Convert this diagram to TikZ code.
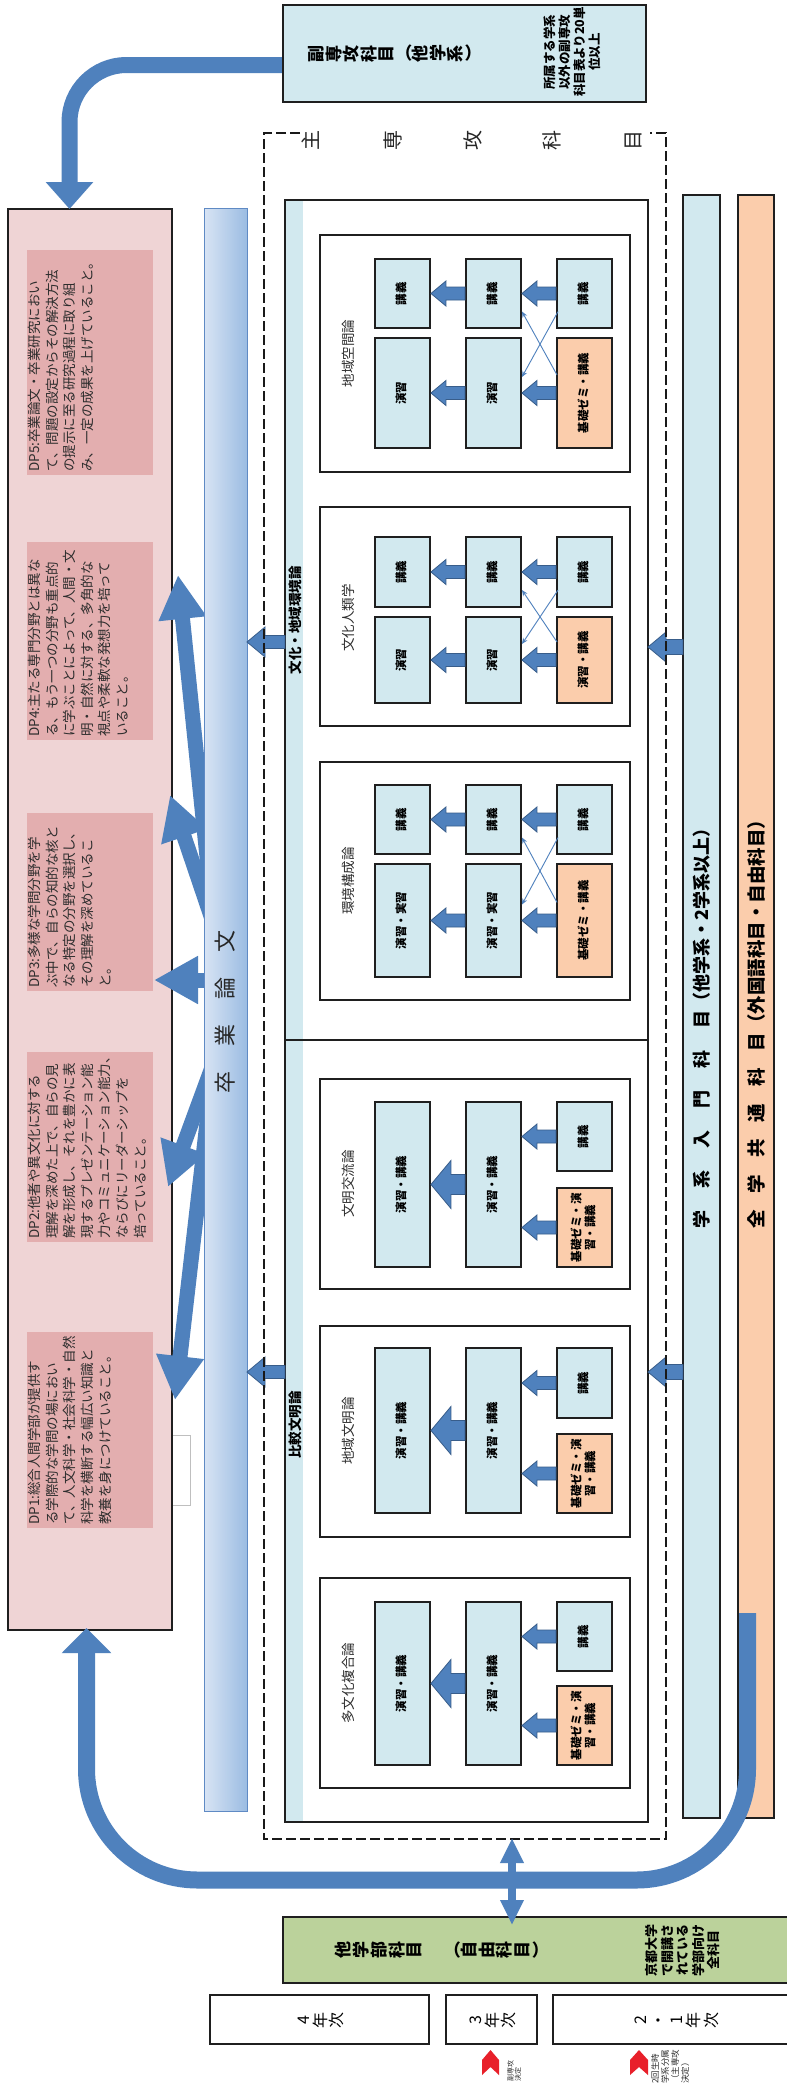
\documentclass[tikz,border=0pt]{standalone}
\usepackage{fontspec}
\setmainfont{Noto Sans CJK JP}
\usepackage{graphicx}
\usetikzlibrary{arrows.meta,calc}
\definecolor{pinkBG}{RGB}{239,212,213}
\definecolor{pinkIn}{RGB}{227,174,175}
\definecolor{cyanF}{RGB}{210,233,239}
\definecolor{oranF}{RGB}{251,205,172}
\definecolor{greenF}{RGB}{187,210,155}
\definecolor{ablue}{RGB}{79,129,189}
\definecolor{ablueD}{RGB}{56,93,138}
\definecolor{barL}{RGB}{216,228,244}
\definecolor{barR}{RGB}{155,188,226}
\definecolor{barB}{RGB}{95,138,196}
\definecolor{redC}{RGB}{232,32,42}
\definecolor{txt}{RGB}{45,45,45}
\ExplSyntaxOn
\NewDocumentCommand\tate{O{0pt}m}{\tl_map_inline:nn{#2}{\rotatebox[origin=c]{90}{\makebox[1em][c]{\vphantom{年}##1}}\hspace{#1}}}
\ExplSyntaxOff
\newcommand\rtx[1]{\rotatebox{90}{\begin{tabular}{@{}c@{}}#1\end{tabular}}}
\newcommand\bx[7][]{\node[#1, minimum width={(#5)-(#3)}, minimum height={(#6)-(#4)}, inner sep=0pt] (#2) at ({((#3)+(#5))/2},{((#4)+(#6))/2}) {#7};}
\newcommand\blkarrow[5]{\path[blk] let \p1=(#1), \p2=(#2) in (\x1,\y2+#3pt) -- (\x2+#5pt,\y2+#3pt) -- (\x2+#5pt,\y2+#4pt) -- (\x2,\y2) -- (\x2+#5pt,\y2-#4pt) -- (\x2+#5pt,\y2-#3pt) -- (\x1,\y2-#3pt) -- cycle;}
\tikzset{
  frame/.style={draw=black!88, line width=1.9pt},
  sb/.style={frame, fill=cyanF, font=\fontsize{11.5}{13.5}\selectfont\bfseries},
  so/.style={frame, fill=oranF, font=\fontsize{11.5}{13.5}\selectfont\bfseries},
  rt/.style={rotate=90, inner sep=0pt, align=center, text=txt},
  dpt/.style={rotate=90, anchor=north west, align=left, inner sep=0pt, text=txt, font=\fontsize{13.5}{17.6}\selectfont},
  lbl/.style={rt, font=\fontsize{13.5}{14}\selectfont},
  fat/.style={line width=15pt, ablue, -{Triangle[length=44pt,width=45pt]}},
  blk/.style={fill=ablue, draw=ablueD, line width=0.8pt},
  thinar/.style={ablue, line width=0.9pt, -{Stealth[length=6pt,width=5pt]}},
  dashframe/.style={black!90, line width=2.5pt, dash pattern=on 10pt off 4pt},
}
\begin{document}
\begin{tikzpicture}[x=1pt,y=-1pt]
\useasboundingbox[fill=white] (0,0) rectangle (787,2096);

% ---------- DP column ----------
\bx[draw=black!25, fill=white, line width=0.8pt]{wr}{172}{1435}{190}{1505}{}
\bx[frame, fill=pinkBG]{dp}{8}{209}{172}{1630}{}
\bx[fill=pinkIn]{dp5}{27}{250}{153}{475}{}
\bx[fill=pinkIn]{dp4}{27}{542}{153}{740}{}
\bx[fill=pinkIn]{dp3}{27}{813}{153}{991}{}
\bx[fill=pinkIn]{dp2}{27}{1052}{153}{1242}{}
\bx[fill=pinkIn]{dp1}{27}{1332}{153}{1528}{}
\node[dpt] (dp5t) at (28,472) {DP5:卒業論文・卒業研究におい\\て、問題の設定からその解決方法\\の提示に至る研究過程に取り組\\み、一定の成果を上げていること。};
\node[dpt] (dp4t) at (28,737) {DP4:主たる専門分野とは異な\\る、もう一つの分野も重点的\\に学ぶことによって、人間・文\\明・自然に対する、多角的な\\視点や柔軟な発想力を培って\\いること。};
\node[dpt] (dp3t) at (28,988) {DP3:多様な学問分野を学\\ぶ中で、自らの知的な核と\\なる特定の分野を選択し、\\その理解を深めているこ\\と。};
\node[dpt] (dp2t) at (28,1239) {DP2:他者や異文化に対する\\理解を深めた上で、自らの見\\解を形成し、それを豊かに表\\現するプレゼンテーション能\\力やコミュニケーション能力、\\ならびにリーダーシップを\\培っていること。};
\node[dpt] (dp1t) at (28,1525) {DP1:総合人間学部が提供す\\る学際的な学問の場におい\\て、人文科学・社会科学・自然\\科学を横断する幅広い知識と\\教養を身につけていること。};

% ---------- arrows from the thesis bar ----------
\coordinate (sAB) at (214,925);
\coordinate (sC) at (225,980);
\coordinate (sDE) at (214,1062);
\coordinate (tA) at (178,575);
\coordinate (tB) at (170,795);
\coordinate (tC) at (154,980);
\coordinate (tD) at (168,1187);
\coordinate (tE) at (175,1400);
\draw[fat] (sAB) -- (tA);
\draw[fat] (sAB) -- (tB);
\draw[fat] (sC) -- (tC);
\draw[fat] (sDE) -- (tD);
\draw[fat] (sDE) -- (tE);

% ---------- thesis bar ----------
\bx[left color=barL, right color=barR, draw=barB, line width=0.8pt]{bar}{204}{208}{247}{1811}{}
\node[rotate=90, inner sep=0pt, font=\fontsize{22}{22}\selectfont, text=black!85] (bart) at (225,1012) {卒\hspace{25pt}業\hspace{25pt}論\hspace{25pt}文};

% ---------- top arrow and minor box ----------
\coordinate (fA) at (283,65);
\coordinate (dpN) at (69.5,209);
\draw[line width=16pt, ablue, rounded corners=57pt, -{Triangle[length=27pt,width=46pt]}] (fA) -- (69.5,65) -- (dpN);
\bx[frame, fill=cyanF]{fuku}{283}{5}{646}{102}{}
\node[anchor=west, inner sep=0pt, font=\fontsize{17}{17}\selectfont\bfseries] (fukut) at (308,53.5) {\tate[1.2pt]{副専攻科目}（\tate[1.2pt]{他学系}）};
\node[rt, font=\fontsize{12.5}{15}\selectfont\bfseries, text=black] (fukus) at (572,52) {所属する学系\\以外の副専攻\\科目表より20単\\位以上};

% ---------- groups ----------
\fill[cyanF] (285,200) rectangle (303,1822);
\bx[frame]{g1}{285}{200}{648}{1040}{}
\bx[frame]{g2}{285}{1040}{648}{1822}{}
\node[rt, font=\fontsize{13.5}{14}\selectfont\bfseries, text=black] (g1l) at (295,620) {文化・地域環境論};
\node[rt, font=\fontsize{13.5}{14}\selectfont\bfseries, text=black] (g2l) at (295,1425) {比較文明論};

% course boxes
\bx[frame]{c1}{320}{235}{630}{472}{}
\bx[frame]{c2}{320}{507}{630}{726}{}
\bx[frame]{c3}{320}{762}{630}{1000}{}
\bx[frame]{c4}{320}{1079}{630}{1289}{}
\bx[frame]{c5}{320}{1326}{630}{1537}{}
\bx[frame]{c6}{320}{1578}{630}{1788}{}
\node[lbl] (c1l) at (348,353.5) {地域空間論};
\node[lbl] (c2l) at (348,618) {文化人類学};
\node[lbl] (c3l) at (348,881) {環境構成論};
\node[lbl] (c4l) at (348,1184) {文明交流論};
\node[lbl] (c5l) at (348,1431) {地域文明論};
\node[lbl] (c6l) at (348,1683) {多文化複合論};

% c1
\bx[sb]{c1a1}{375}{259}{430}{328}{\rtx{講義}}
\bx[sb]{c1a2}{375}{338}{430}{448}{\rtx{演習}}
\bx[sb]{c1b1}{466}{259}{521}{328}{\rtx{講義}}
\bx[sb]{c1b2}{466}{338}{521}{448}{\rtx{演習}}
\bx[sb]{c1c1}{557}{259}{612}{328}{\rtx{講義}}
\bx[so]{c1c2}{557}{338}{612}{448}{\rtx{基礎ゼミ・講義}}
% c2
\bx[sb]{c2a1}{375}{537}{430}{607}{\rtx{講義}}
\bx[sb]{c2a2}{375}{617}{430}{703}{\rtx{演習}}
\bx[sb]{c2b1}{466}{537}{521}{607}{\rtx{講義}}
\bx[sb]{c2b2}{466}{617}{521}{703}{\rtx{演習}}
\bx[sb]{c2c1}{557}{537}{612}{607}{\rtx{講義}}
\bx[so]{c2c2}{557}{617}{612}{703}{\rtx{演習・講義}}
% c3
\bx[sb]{c3a1}{375}{785}{430}{854}{\rtx{講義}}
\bx[sb]{c3a2}{375}{864}{430}{977}{\rtx{演習・実習}}
\bx[sb]{c3b1}{466}{785}{521}{854}{\rtx{講義}}
\bx[sb]{c3b2}{466}{864}{521}{977}{\rtx{演習・実習}}
\bx[sb]{c3c1}{557}{785}{612}{854}{\rtx{講義}}
\bx[so]{c3c2}{557}{864}{612}{977}{\rtx{基礎ゼミ・講義}}
% c4
\bx[sb]{c4a}{375}{1102}{430}{1267}{\rtx{演習・講義}}
\bx[sb]{c4b}{466}{1102}{521}{1267}{\rtx{演習・講義}}
\bx[sb]{c4c1}{557}{1102}{612}{1171}{\rtx{講義}}
\bx[so]{c4c2}{557}{1188}{612}{1267}{\rtx{基礎ゼミ・演\\習・講義}}
% c5
\bx[sb]{c5a}{375}{1348}{430}{1513}{\rtx{演習・講義}}
\bx[sb]{c5b}{466}{1348}{521}{1513}{\rtx{演習・講義}}
\bx[sb]{c5c1}{557}{1348}{612}{1418}{\rtx{講義}}
\bx[so]{c5c2}{557}{1434}{612}{1513}{\rtx{基礎ゼミ・演\\習・講義}}
% c6
\bx[sb]{c6a}{375}{1602}{430}{1765}{\rtx{演習・講義}}
\bx[sb]{c6b}{466}{1602}{521}{1765}{\rtx{演習・講義}}
\bx[sb]{c6c1}{557}{1602}{612}{1671}{\rtx{講義}}
\bx[so]{c6c2}{557}{1686}{612}{1765}{\rtx{基礎ゼミ・演\\習・講義}}

% block arrows inside courses
\foreach \c in {c1,c2,c3}{
  \blkarrow{\c c1.west}{\c b1.east}{6.5}{12.5}{15}
  \blkarrow{\c c2.west}{\c b2.east}{6.5}{12.5}{15}
  \blkarrow{\c b1.west}{\c a1.east}{6.5}{12.5}{15}
  \blkarrow{\c b2.west}{\c a2.east}{6.5}{12.5}{15}
  \draw[thinar] ($(\c c1.west)+(2,18)$) -- ($(\c b2.east)+(0,-16)$);
  \draw[thinar] ($(\c c2.west)+(1,-18)$) -- ($(\c b1.east)+(0,18)$);
}
\foreach \c in {c4,c5,c6}{
  \blkarrow{\c c1.west}{\c b.east |- \c c1.west}{6.5}{12.5}{15}
  \blkarrow{\c c2.west}{\c b.east |- \c c2.west}{6.5}{12.5}{15}
  \blkarrow{\c b.west}{\c a.east}{10}{24}{20}
}

% ---------- right bars ----------
\bx[frame, fill=cyanF]{gk}{683}{195}{720}{1818}{}
\bx[frame, fill=oranF]{zk}{738}{195}{774}{1818}{}
\node[rotate=90, anchor=west, inner sep=0pt, font=\fontsize{18}{18}\selectfont\bfseries] (gkt) at (702,1229) {学\hspace{22pt}系\hspace{22pt}入\hspace{22pt}門\hspace{22pt}科\hspace{22pt}目（他学系・2学系以上）};
\node[rotate=90, anchor=west, inner sep=0pt, font=\fontsize{18.5}{18.5}\selectfont\bfseries] (zkt) at (756,1229) {全\hspace{17pt}学\hspace{17pt}共\hspace{17pt}通\hspace{17pt}科\hspace{17pt}目（外国語科目・自由科目）};

% arrows between bars and groups
\coordinate (gkA) at (683,647);
\coordinate (g1R) at (648,647);
\coordinate (gkB) at (683,1372);
\coordinate (g2R) at (648,1372);
\coordinate (g1L) at (285,642);
\coordinate (barA) at (247,642);
\coordinate (g2L) at (285,1372);
\coordinate (barB) at (247,1372);
\blkarrow{gkA}{g1R}{7.5}{15}{18}
\blkarrow{gkB}{g2R}{7.5}{15}{18}
\blkarrow{g1L}{barA}{6.5}{15}{18}
\blkarrow{g2L}{barB}{6.5}{15}{18}

% ---------- dashed frame and title ----------
\draw[dashframe] (300,133) -- (264,133) -- (264,1839) -- (666,1839) -- (666,133) -- (650,133);
\foreach \c/\x [count=\i] in {主/311,専/393,攻/473,科/552,目/633}
  \node[font=\fontsize{20}{20}\selectfont, inner sep=0pt, text=black!85] (ttl\i) at (\x,140) {\rotatebox{90}{\c}};

% ---------- big U arrow ----------
\coordinate (uS) at (747.5,1613);
\coordinate (uT) at (86.5,1628);
\draw[line width=17pt, ablue, rounded corners=111pt, -{Triangle[length=25pt,width=48pt]}] (uS) -- (747.5,1880) -- (86.5,1880) -- (uT);

% ---------- other faculties box ----------
\bx[frame, fill=greenF]{tb}{283}{1917}{790}{1983}{}
\node[anchor=west, inner sep=0pt, font=\fontsize{17}{17}\selectfont\bfseries] (tbt) at (335,1950) {\tate[1.5pt]{他学部科目}\hspace{20pt}（\tate[1.5pt]{自由科目}）};
\node[rt, font=\fontsize{13}{15.5}\selectfont\bfseries, text=black] (tbs) at (683,1950) {京都大学\\で開講さ\\れている\\学部向け\\全科目};

% double arrow
\coordinate (dA) at (512,1838);
\coordinate (dB) at (512,1925);
\draw[line width=8pt, ablue, {Triangle[length=25pt,width=22pt]}-{Triangle[length=25pt,width=22pt]}] (dA) -- (dB);

% ---------- year boxes ----------
\bx[frame]{y4}{210}{1995}{429}{2044}{}
\bx[frame]{y3}{446}{1995}{537}{2044}{}
\bx[frame]{y21}{553}{1995}{790}{2044}{}
\node[font=\fontsize{16}{16}\selectfont, inner sep=0pt] (y4t) at (320,2020) {\tate[2pt]{4年次}};
\node[font=\fontsize{16}{16}\selectfont, inner sep=0pt] (y3t) at (492,2020) {\tate[2pt]{3年次}};
\node[font=\fontsize{16}{16}\selectfont, inner sep=0pt] (y21t) at (676,2020) {\tate[3pt]{2・1年次}};

% ---------- red markers ----------
\fill[redC] (482,2060) -- (490.5,2050) -- (499,2060) -- (499,2075) -- (490.5,2067) -- (482,2075) -- cycle;
\fill[redC] (630,2060) -- (639,2050) -- (648,2060) -- (648,2075) -- (639,2067) -- (630,2075) -- cycle;
\node[dpt, font=\fontsize{7}{7.5}\selectfont] (m1) at (507,2082) {副専攻\\決定};
\node[dpt, font=\fontsize{8.5}{10}\selectfont] (m2) at (651,2084) {2回生時\\学系分属\\（主専攻\\決定）};
\end{tikzpicture}
\end{document}
